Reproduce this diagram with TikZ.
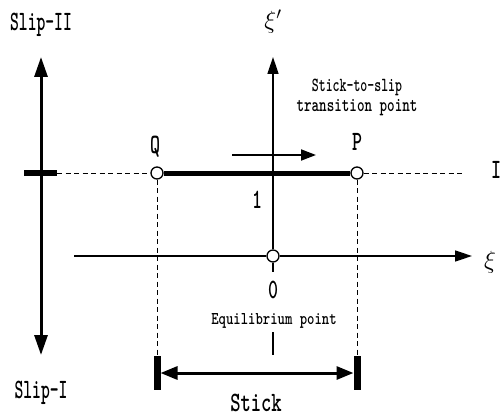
\documentclass[tikz,border=0pt]{standalone}
\usepackage{graphicx}
\usetikzlibrary{arrows.meta}
\newcommand\hsq[2]{\scalebox{#1}[1]{#2}}
\begin{document}
\begin{tikzpicture}[x=1pt,y=-1pt,
  pnt/.style={circle,draw,fill=white,line width=1.3pt,minimum size=12pt,inner sep=0pt},
  big/.style={font=\ttfamily\bfseries\fontsize{28}{28}\selectfont,inner sep=0pt,anchor=base},
  small/.style={font=\ttfamily\bfseries\fontsize{20}{20}\selectfont,inner sep=0pt,anchor=base},
  tiny/.style={font=\ttfamily\bfseries\fontsize{18}{18}\selectfont,inner sep=0pt,anchor=base},
  mth/.style={font=\fontsize{25}{25}\selectfont,inner sep=0pt},
  axis/.style={line width=1.6pt},
  dsh/.style={line width=0.9pt,dash pattern=on 5pt off 3.5pt},
  tipA/.style={-{Triangle[length=17pt,width=11pt]}},
  tipB/.style={{Triangle[length=20pt,width=13pt]}-{Triangle[length=20pt,width=13pt]}},
  tipC/.style={{Triangle[length=17pt,width=13pt]}-{Triangle[length=17pt,width=13pt]}},
]
\useasboundingbox (0,0) rectangle (500,417);

% points
\node[pnt] (Q) at (157,173) {};
\node[pnt] (P) at (357,173) {};
\node[pnt] (O) at (273,256) {};

% coordinates
\coordinate (LT) at (41,57);
\coordinate (LB) at (41,355);
\coordinate (TL) at (24,173);
\coordinate (TR) at (57,173);
\coordinate (IE) at (463,173);
\coordinate (YT) at (273,57);
\coordinate (YB) at (273,272);
\coordinate (XL) at (74,256);
\coordinate (XR) at (472,256);
\coordinate (EA) at (273,332);
\coordinate (EB) at (273,355);
\coordinate (QB) at (157,356);
\coordinate (QE) at (157,390);
\coordinate (PB) at (357,356);
\coordinate (PE) at (357,390);
\coordinate (SL) at (160.5,373);
\coordinate (SR) at (353.5,373);
\coordinate (AL) at (232,155);
\coordinate (AR) at (316,155);

% left slip arrow and tick
\draw[line width=3pt,tipB] (LT) -- (LB);
\draw[line width=6pt] (TL) -- (TR);

% line I
\draw[dsh] (TR) -- (Q);
\draw[dsh] (P) -- (IE);
\draw[line width=5pt] (Q) -- (P);

% axes
\draw[axis,tipA] (O) -- (YT);
\draw[axis] (O) -- (YB);
\draw[axis] (XL) -- (O);
\draw[axis,tipA] (O) -- (XR);
\draw[axis] (EA) -- (EB);

% direction arrow
\draw[line width=1.8pt,-{Triangle[length=15pt,width=11pt]}] (AL) -- (AR);

% dashed drops
\draw[dsh] (Q) -- (QB);
\draw[dsh] (P) -- (PB);

% stick bars and arrow
\draw[line width=7pt] (QB) -- (QE);
\draw[line width=7pt] (PB) -- (PE);
\draw[line width=3pt,tipC] (SL) -- (SR);

% labels
\node[big] (slip2) at (41,31) {\hsq{0.6}{Slip-II}};
\node[big] (slip1) at (41,398) {\hsq{0.6}{Slip-I}};
\node[big] (stick) at (256,411) {\hsq{0.7}{Stick}};
\node[big] (lq) at (155,153) {\hsq{0.68}{Q}};
\node[big] (lp) at (357,150) {\hsq{0.68}{P}};
\node[big] (l1) at (257,208) {\hsq{0.68}{1}};
\node[big] (l0) at (273,298) {\hsq{0.68}{0}};
\node[big] (lI) at (496,178) {\hsq{0.68}{I}};
\node[small] (st1) at (357,92) {\hsq{0.66}{Stick-to-slip}};
\node[small] (st2) at (357,112) {\hsq{0.72}{transition point}};
\node[tiny] (eq) at (274,324) {\hsq{0.78}{Equilibrium point}};
\node[mth] (xip) at (273,22) {$\xi'$};
\node[mth] (xi) at (490,262) {$\xi$};
\end{tikzpicture}
\end{document}
